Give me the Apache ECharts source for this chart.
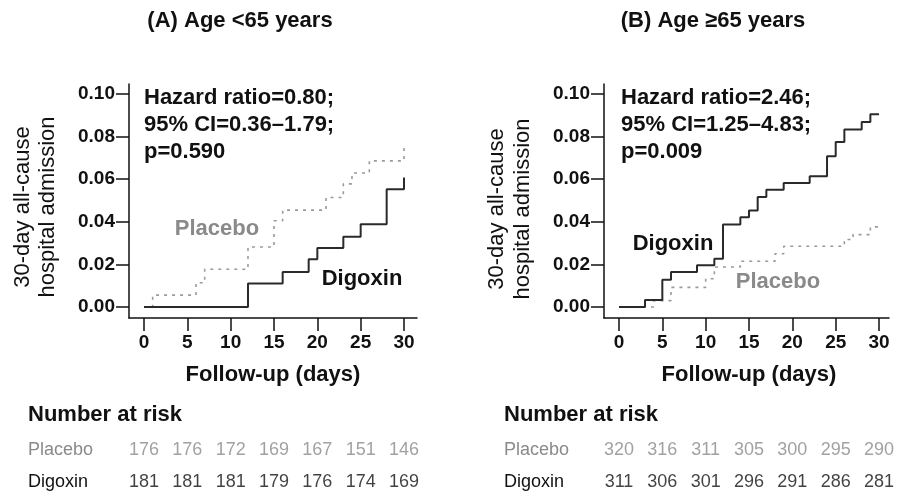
<!DOCTYPE html>
<html lang="en">
<head>
<meta charset="UTF-8">
<title>30-day all-cause hospital admission by age</title>
<script src="https://cdn.jsdelivr.net/npm/echarts@6.0.0/dist/echarts.min.js"></script>
<style>
html, body { margin: 0; padding: 0; background: #fff; }
#chart { width: 903px; height: 496px; }
</style>
</head>
<body>
<div id="chart"></div>
<script>
// follow-up days where the number at risk is reported (also the x ticks)
var riskDays = [0, 5, 10, 15, 20, 25, 30];
var yTicks = [0, 0.02, 0.04, 0.06, 0.08, 0.10];

// (A) Age <65 years : event days and cumulative incidence after each step
var digoxinA_t = [0, 12, 16, 19, 20, 23, 25, 28, 30];
var digoxinA_v = [0, 0.011, 0.0164, 0.0224, 0.0277, 0.033, 0.0389, 0.0553, 0.0608];
var placeboA_t = [0, 1, 6, 7, 12, 15, 16, 21, 23, 24, 26, 30];
var placeboA_v = [0, 0.0056, 0.0114, 0.0177, 0.0282, 0.0405, 0.0455, 0.0514, 0.0578, 0.0629, 0.0686, 0.0749];

// (B) Age >=65 years
var digoxinB_t = [0, 3, 5, 6, 9, 11, 12, 14, 15, 16, 17, 19, 22, 24, 25, 26, 28, 29, 30];
var digoxinB_v = [0, 0.0033, 0.0128, 0.0164, 0.0196, 0.0227, 0.0387, 0.0421, 0.0453, 0.0516, 0.0551, 0.0582, 0.0614, 0.0708, 0.0775, 0.0833, 0.0869, 0.0905, 0.0905];
var placeboB_t = [0, 4, 6, 10, 11, 14, 18, 19, 26, 27, 29, 30];
var placeboB_v = [0, 0.003, 0.0092, 0.0133, 0.0188, 0.0215, 0.025, 0.0285, 0.0317, 0.034, 0.0376, 0.0376];

// number at risk
var placeboRiskA = [176, 176, 172, 169, 167, 151, 146];
var digoxinRiskA = [181, 181, 181, 179, 176, 174, 169];
var placeboRiskB = [320, 316, 311, 305, 300, 295, 290];
var digoxinRiskB = [311, 306, 301, 296, 291, 286, 281];

var FONT = '"Liberation Sans", Arial, Helvetica, sans-serif';
var GRAY = '#8a8a8a';
var DARK = '#2a2a2a';

function pairs(t, v) {
    return t.map(function (d, i) { return [d, v[i]]; });
}

function riskRows(p, d) {
    var out = [];
    riskDays.forEach(function (day, i) {
        out.push({ value: [day, 1, p[i]], label: { color: GRAY } });
        out.push({ value: [day, 0, d[i]], label: { color: '#111' } });
    });
    return out;
}

var chart = echarts.init(document.getElementById('chart'));

// plot panels: x axis line sits below 0, y axis line left of day 0
var xMin = -1.73, yMin = -0.00516, yMax = 0.1047;

function plotX(gridIndex, xMax) {
    return {
        type: 'value', gridIndex: gridIndex, min: xMin, max: xMax,
        axisLine: { onZero: false, lineStyle: { color: '#111', width: 1.5 } },
        axisTick: { show: true, length: 13, customValues: riskDays, lineStyle: { color: '#111', width: 1.5 } },
        axisLabel: { customValues: riskDays, margin: 15, fontFamily: FONT, fontWeight: 'bold', fontSize: 19, color: '#111' },
        splitLine: { show: false }
    };
}

function plotY(gridIndex) {
    return {
        type: 'value', gridIndex: gridIndex, min: yMin, max: yMax,
        axisLine: { show: true, onZero: false, lineStyle: { color: '#111', width: 1.5 } },
        axisTick: { show: true, length: 13, customValues: yTicks, lineStyle: { color: '#111', width: 1.5 } },
        axisLabel: {
            customValues: yTicks, margin: 14, fontFamily: FONT, fontWeight: 'bold', fontSize: 19, color: '#111',
            formatter: function (v) { return v.toFixed(2); }
        },
        splitLine: { show: false }
    };
}

function riskX(gridIndex, xMax) {
    return { type: 'value', gridIndex: gridIndex, min: xMin, max: xMax, show: false };
}

function riskY(gridIndex, margin) {
    return {
        type: 'category', gridIndex: gridIndex, data: ['Digoxin', 'Placebo'],
        axisLine: { show: false }, axisTick: { show: false }, splitLine: { show: false },
        axisLabel: {
            margin: margin, align: 'left', fontFamily: FONT, fontSize: 18,
            color: function (v) { return v === 'Placebo' ? GRAY : '#111'; }
        }
    };
}

function curve(name, ax, data, style) {
    return {
        name: name, type: 'line', step: 'end', xAxisIndex: ax, yAxisIndex: ax,
        data: data, symbol: 'none', lineStyle: style, silent: true
    };
}

function riskSeries(ax, data) {
    return {
        type: 'scatter', xAxisIndex: ax, yAxisIndex: ax, data: data,
        symbolSize: 1, itemStyle: { color: 'rgba(0,0,0,0)' }, silent: true,
        label: {
            show: true, position: 'inside', fontFamily: FONT, fontSize: 18,
            formatter: function (p) { return p.value[2]; }
        }
    };
}

function txt(x, y, text, size, bold, color, align, rotation) {
    return {
        type: 'text', x: x, y: y, rotation: rotation || 0, silent: true,
        style: {
            text: text, fill: color, align: align || 'left', verticalAlign: 'middle',
            font: (bold ? 'bold ' : '') + size + 'px ' + FONT
        }
    };
}

var dashStyle = { color: '#9a9a9a', width: 1.6, type: [3, 5] };
var solidStyle = { color: DARK, width: 2 };

function gridBox(left, top, width, height) {
    return { left: left, top: top, width: width, height: height, containLabel: false, outerBoundsMode: 'none' };
}

var option = {
    animation: false,
    backgroundColor: '#fff',
    grid: [
        gridBox(129, 84, 288, 234),
        gridBox(604, 84, 285, 234),
        gridBox(129, 434, 288, 64),
        gridBox(604, 434, 285, 64)
    ],
    xAxis: [plotX(0, 31.5), plotX(1, 31.15), riskX(2, 31.5), riskX(3, 31.15)],
    yAxis: [plotY(0), plotY(1), riskY(2, 101), riskY(3, 100)],
    series: [
        curve('Placebo', 0, pairs(placeboA_t, placeboA_v), dashStyle),
        curve('Digoxin', 0, pairs(digoxinA_t, digoxinA_v), solidStyle),
        curve('Placebo', 1, pairs(placeboB_t, placeboB_v), dashStyle),
        curve('Digoxin', 1, pairs(digoxinB_t, digoxinB_v), solidStyle),
        riskSeries(2, riskRows(placeboRiskA, digoxinRiskA)),
        riskSeries(3, riskRows(placeboRiskB, digoxinRiskB))
    ],
    graphic: [
        txt(240, 21, '(A) Age <65 years', 22, true, '#111', 'center'),
        txt(713, 21, '(B) Age \u226565 years', 22, true, '#111', 'center'),

        // axis titles
        txt(23, 207, '30-day all-cause', 22, false, '#111', 'center', Math.PI / 2),
        txt(48, 207, 'hospital admission', 22, false, '#111', 'center', Math.PI / 2),
        txt(497, 209, '30-day all-cause', 22, false, '#111', 'center', Math.PI / 2),
        txt(523, 209, 'hospital admission', 22, false, '#111', 'center', Math.PI / 2),
        txt(273, 375, 'Follow-up (days)', 22, true, '#111', 'center'),
        txt(749, 375, 'Follow-up (days)', 22, true, '#111', 'center'),

        txt(144, 98, 'Hazard ratio=0.80;', 22, true, '#111'),
        txt(144, 125, '95% CI=0.36\u20131.79;', 22, true, '#111'),
        txt(144, 152, 'p=0.590', 22, true, '#111'),
        txt(621, 98, 'Hazard ratio=2.46;', 22, true, '#111'),
        txt(621, 125, '95% CI=1.25\u20134.83;', 22, true, '#111'),
        txt(621, 152, 'p=0.009', 22, true, '#111'),

        txt(217, 229, 'Placebo', 22, true, GRAY, 'center'),
        txt(362, 279, 'Digoxin', 22, true, '#111', 'center'),
        txt(673, 244, 'Digoxin', 22, true, '#111', 'center'),
        txt(778, 282, 'Placebo', 22, true, GRAY, 'center'),

        txt(28, 415, 'Number at risk', 22, true, '#111'),
        txt(504, 415, 'Number at risk', 22, true, '#111')
    ]
};

chart.setOption(option);
</script>
</body>
</html>
